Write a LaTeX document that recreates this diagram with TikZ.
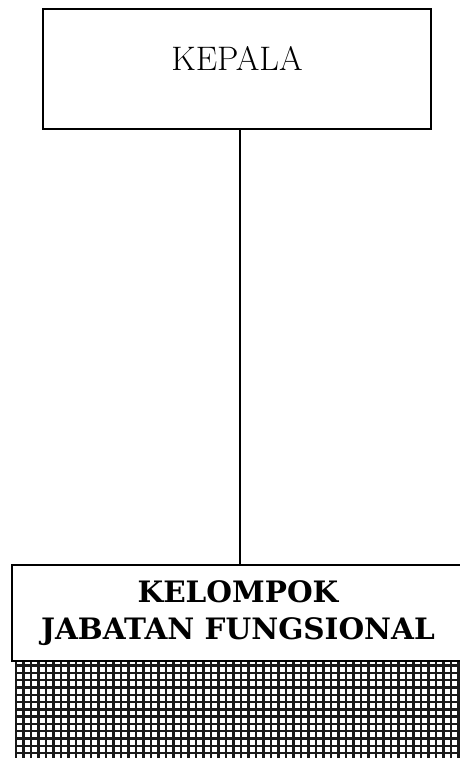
\documentclass[tikz,border=0pt]{standalone}
\usepackage{fontspec}
\usepackage{tikz}
\usetikzlibrary{positioning,calc}
\newfontfamily\slabfont{DejaVu Serif}
\tikzset{
  unitbox/.style={rectangle, draw=black, line width=2pt, fill=white,
                  minimum width=#1, inner sep=0pt},
  gridline/.style={line width=2.4pt, draw=black!90},
  link/.style={line width=1.4pt, draw=black},
}

\begin{document}
\begin{tikzpicture}[x=1pt, y=-1pt]
  \useasboundingbox (0,0) rectangle (459,758);
  % hatched band under the lower box
  \begin{scope}
    \clip (15,662) rectangle (470,770);
    \foreach \k in {0,...,61}
      \draw[gridline] ({15.8+7.5*\k},660) -- ({15.8+7.5*\k},770);
    \foreach \k in {0,...,14}
      \draw[gridline] (10,{665.5+7.3*\k}) -- (470,{665.5+7.3*\k});
  \end{scope}
  \node[unitbox=388pt, minimum height=120pt] (kepala) at (237,69) {};
  \node[font=\fontsize{34}{40}\selectfont] (kepalatxt) at ([yshift=11pt]kepala.center) {KEPALA};
  \node[unitbox=452pt, minimum height=96pt, align=center,
        font=\slabfont\bfseries\fontsize{29.5}{37}\selectfont] (kelompok) at (238,613)
    {KELOMPOK\\JABATAN FUNGSIONAL};
  \draw[link] ([xshift=3pt]kepala.south) -- ([xshift=3pt]kepala.south |- kelompok.north);
\end{tikzpicture}
\end{document}
